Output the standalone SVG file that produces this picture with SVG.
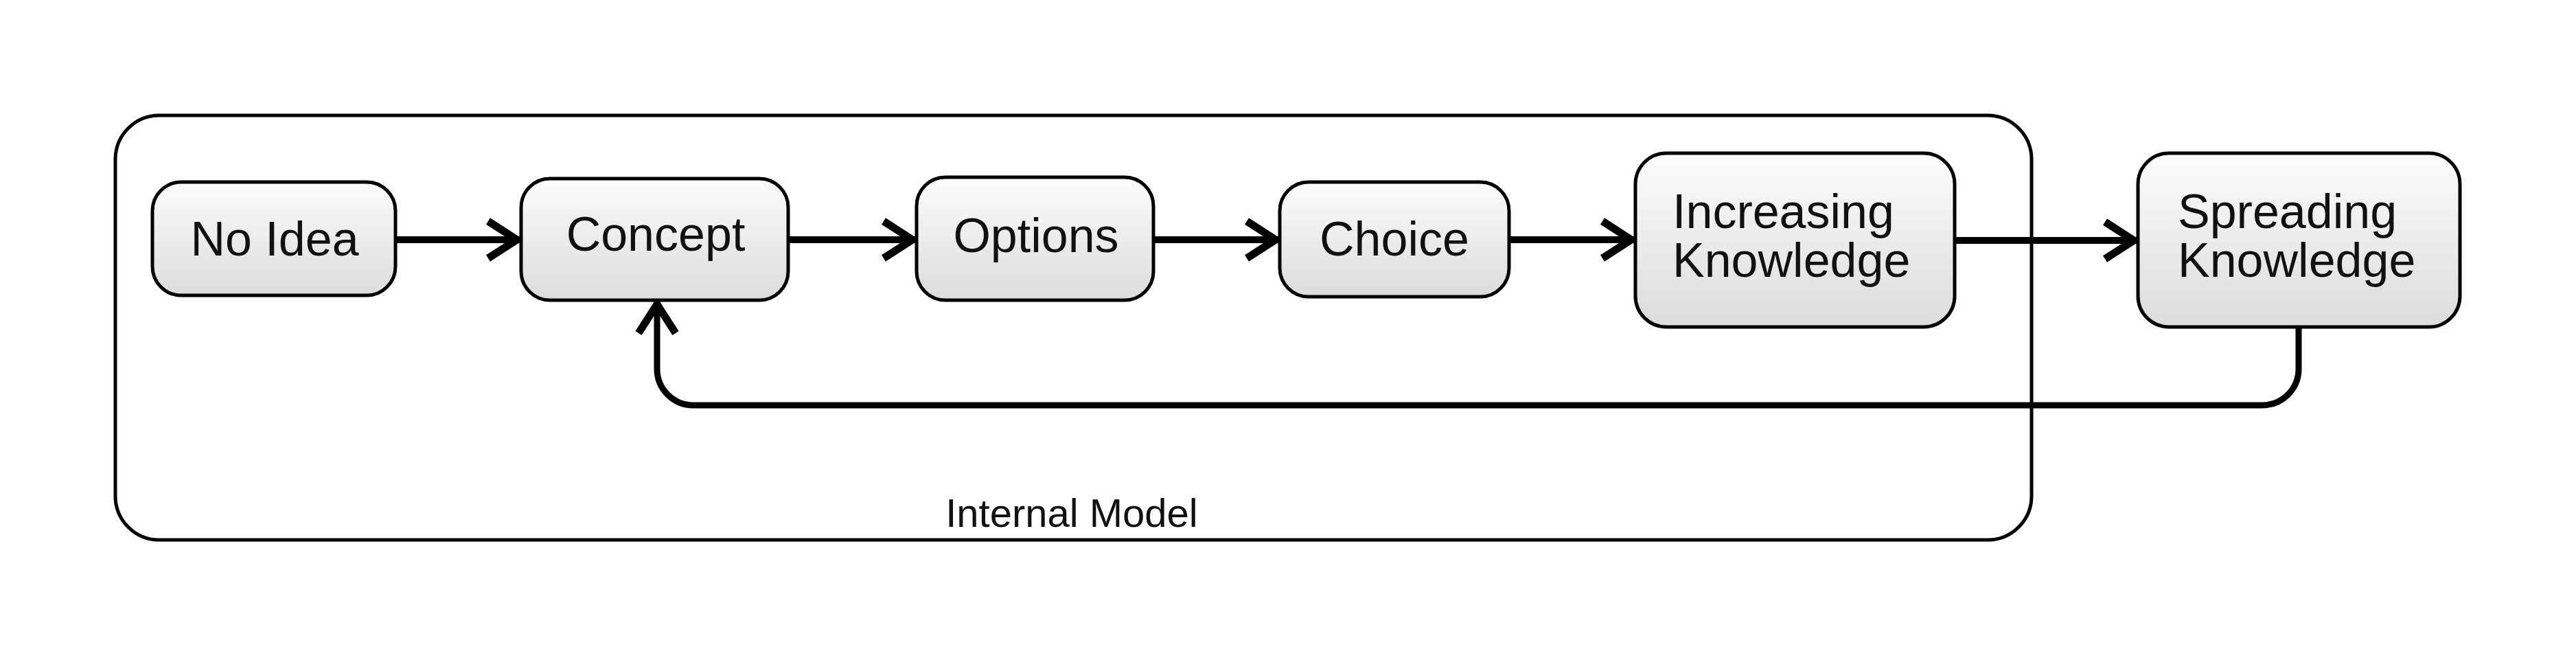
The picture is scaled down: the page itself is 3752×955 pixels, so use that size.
<svg xmlns="http://www.w3.org/2000/svg" width="3752" height="955" viewBox="0 0 3752 955">
<style>
.node{fill:url(#g);stroke:#000;stroke-width:5}
.lbl{font-family:"Liberation Sans",Arial,sans-serif;font-size:70px;fill:#111}
.mid{text-anchor:middle}
.con{fill:none;stroke:#000;stroke-width:10;marker-end:url(#arr)}
</style>
<defs>
<linearGradient id="g" x1="0" y1="0" x2="0" y2="1">
<stop offset="0" stop-color="#fcfcfc"/>
<stop offset="1" stop-color="#dcdcdc"/>
</linearGradient>
<marker id="arr" markerUnits="userSpaceOnUse" viewBox="-60 -35 70 70" refX="0" refY="0" markerWidth="70" markerHeight="70" orient="auto" overflow="visible">
<path d="M-48,-27 L-6,0 L-48,27" fill="none" stroke="#000" stroke-width="11"/>
</marker>
</defs>
<rect width="3752" height="955" fill="#fff"/>
<g id="internal-model">
<rect x="168" y="168" width="2791" height="618" rx="64" ry="64" fill="none" stroke="#000" stroke-width="5"/>
<text class="lbl mid" x="1561" y="767" style="font-size:58px">Internal Model</text>
</g>
<g id="connectors">
<line class="con" x1="576" y1="349" x2="759" y2="349"/>
<line class="con" x1="1148" y1="349" x2="1335" y2="349"/>
<line class="con" x1="1680" y1="349" x2="1864" y2="349"/>
<line class="con" x1="2198" y1="349" x2="2382" y2="349"/>
<line class="con" x1="2847" y1="350" x2="3114" y2="350"/>
<path class="con" style="stroke-width:9" d="M3348,476 L3348,537 A53,53 0 0 1 3295,590 L1010,590 A53,53 0 0 1 957,537 L957,437"/>
</g>
<g id="no-idea">
<rect class="node" x="222" y="265" width="354" height="165" rx="42"/>
<text class="lbl mid" x="400" y="372">No Idea</text>
</g>
<g id="concept">
<rect class="node" x="759" y="260" width="389" height="177" rx="42"/>
<text class="lbl mid" x="955" y="365">Concept</text>
</g>
<g id="options">
<rect class="node" x="1335" y="258" width="345" height="179" rx="42"/>
<text class="lbl mid" x="1509" y="367">Options</text>
</g>
<g id="choice">
<rect class="node" x="1864" y="265" width="334" height="167" rx="42"/>
<text class="lbl mid" x="2031" y="372">Choice</text>
</g>
<g id="increasing-knowledge">
<rect class="node" x="2382" y="223" width="465" height="253" rx="45"/>
<text class="lbl" x="2436" y="332">Increasing</text>
<text class="lbl" x="2436" y="403">Knowledge</text>
</g>
<g id="spreading-knowledge">
<rect class="node" x="3114" y="223" width="469" height="253" rx="45"/>
<text class="lbl" x="3172" y="332">Spreading</text>
<text class="lbl" x="3172" y="403">Knowledge</text>
</g>
</svg>
